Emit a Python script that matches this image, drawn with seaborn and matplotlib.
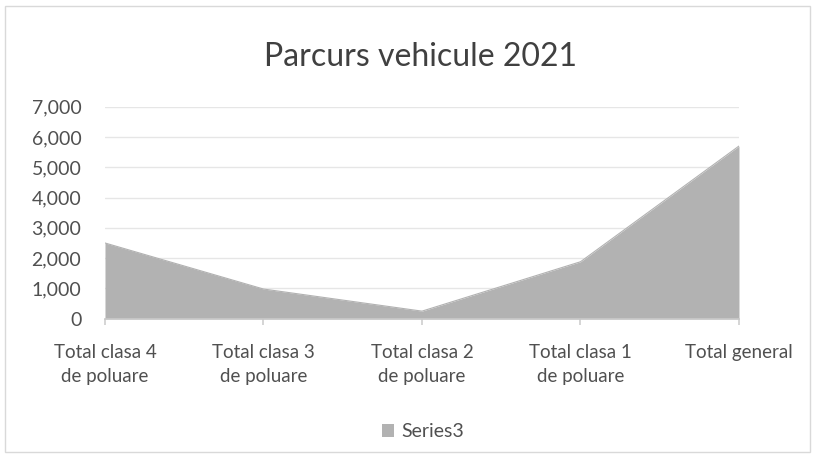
import numpy as np
import pandas as pd
import matplotlib.pyplot as plt
import seaborn as sns
from matplotlib.patches import Rectangle, Patch

categories = ['Total clasa 4\nde poluare', 'Total clasa 3\nde poluare', 'Total clasa 2\nde poluare',
              'Total clasa 1\nde poluare', 'Total general']
values = [2500, 980, 250, 1880, 5700]
yticks = [0, 1000, 2000, 3000, 4000, 5000, 6000, 7000]

sns.set_theme(style='white')
plt.rcParams['font.family'] = ['Lato', 'DejaVu Sans']

df = pd.DataFrame({'cat': range(len(categories)), 'val': values})

fig = plt.figure(figsize=(8.17, 4.57), dpi=100, facecolor='white')
ax = fig.add_axes([0.1285, 0.3026, 0.776, 0.464])

# area fill, outline drawn through seaborn in the same grey
sns.lineplot(data=df, x='cat', y='val', ax=ax, color='#b2b2b2', linewidth=0.8)
ax.fill_between(df['cat'], df['val'], 0, color='#b2b2b2', linewidth=0, zorder=2)

ax.set_xlim(0, len(categories) - 1)
ax.set_ylim(0, 7000)
ax.set_yticks(yticks)
ax.set_yticklabels([f'{v:,}' for v in yticks], fontsize=14, color='#505050')
ax.set_xticks(range(len(categories)))
ax.set_xticklabels(categories, fontsize=13.5, color='#505050', linespacing=1.5)
ax.tick_params(axis='y', length=0, pad=17)
ax.tick_params(axis='x', length=4, color='#d0d0d0', pad=14, direction='out', bottom=True)
ax.set_xlabel('')
ax.set_ylabel('')
ax.grid(axis='y', color='#e6e6e6', linewidth=1)
ax.set_axisbelow(True)
for s in ['top', 'right', 'left']:
    ax.spines[s].set_visible(False)
ax.spines['bottom'].set_color('#c8c8c8')

fig.text(0.515, 0.875, 'Parcurs vehicule 2021', ha='center', va='center', fontsize=23, color='#404040')

handle = Patch(facecolor='#b2b2b2', edgecolor='none')
fig.legend([handle], ['Series3'], loc='center', bbox_to_anchor=(0.518, 0.055), frameon=False,
           fontsize=14, handlelength=0.6, handleheight=0.6, handletextpad=0.4, labelcolor='#505050')

fig.patches.append(Rectangle((0.006, 0.012), 0.985, 0.975, transform=fig.transFigure,
                             fill=False, edgecolor='#d9d9d9', linewidth=1))

fig.savefig('out.png', dpi=100, facecolor='white')
